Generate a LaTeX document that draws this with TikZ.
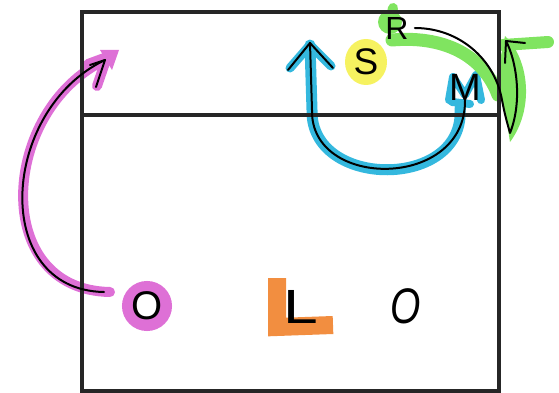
\documentclass[tikz,border=0pt]{standalone}
\usepackage{fontspec}
\setmainfont{Liberation Sans}
\definecolor{mkmagenta}{RGB}{222,112,214}
\definecolor{mkcyan}{RGB}{52,184,222}
\definecolor{mkgreen}{RGB}{128,228,96}
\definecolor{mkyellow}{RGB}{246,242,96}
\definecolor{mkorange}{RGB}{242,142,64}
\begin{document}
\begin{tikzpicture}[x=1pt,y=-1pt,
  frame/.style={line width=3.8pt, draw=black!85},
  ink/.style={line width=2pt, draw=black, line cap=round, line join=round},
  marker/.style={line cap=round, line join=round},
  letter/.style={inner sep=0pt, text=black}]
\useasboundingbox (0,0) rectangle (559,393);

% ---- marker highlights ----
% magenta arrow and ring
\draw[marker, mkmagenta, line width=10pt] (110,292) .. controls (-10,290) and (0,110) .. (105,60);
\draw[marker, mkmagenta, line width=10pt] (88,64) -- (107,57) -- (97,86);
\fill[mkmagenta] (100,50) -- (119,50) -- (112,70) -- cycle;
\draw[mkmagenta, line width=12pt] (147,306) circle[radius=19pt];
% cyan arrow and M
\draw[marker, mkcyan, line width=11pt] (460,108) .. controls (466,190) and (310,190) .. (312,110) -- (310,45);
\draw[marker, mkcyan, line width=9pt] (290,68) -- (310,45) -- (331,66);
\draw[marker, mkcyan, line width=8pt] (449,100) -- (453,77) -- (465,95) -- (476,75) -- (481,100);
\draw[marker, mkcyan, line width=8pt] (452,102) -- (470,104);
% green arrow and R
\fill[mkgreen] (390,22) circle[radius=12pt];
\draw[marker, mkgreen, line width=10pt] (393,8) -- (390,22);
\draw[marker, mkgreen, line width=13pt] (392,40) .. controls (450,35) and (485,60) .. (498,95);
\draw[marker, mkgreen, line width=12pt] (503,45) -- (548,42);
\fill[mkgreen] (496,80) .. controls (505,110) .. (510,142) .. controls (534,110) and (530,60) .. (505,36) -- cycle;
% yellow disc behind S
\fill[mkyellow] (366,62) ellipse[x radius=21pt, y radius=23pt];
% orange L
\draw[mkorange, line width=18pt] (277,278) -- (277,327) -- (333,325);

% ---- box ----
\draw[frame] (82,391) -- (82,12) -- (499,12) -- (499,391) -- cycle;
\draw[frame] (82,115) -- (499,115);

% ---- letters ----
\node[letter, font=\fontsize{40}{40}\selectfont] (O1) at (147,306) {O};
\node[letter, font=\fontsize{48}{48}\selectfont, xscale=1.3] (L) at (301,307) {L};
\node[letter, font=\fontsize{50}{50}\selectfont\itshape, xscale=0.78] (O2) at (406,306) {O};
\node[letter, font=\fontsize{37}{37}\selectfont] (S) at (366,62) {S};
\node[letter, font=\fontsize{32}{32}\selectfont] (R) at (397,28) {R};
\node[letter, font=\fontsize{38}{38}\selectfont] (M) at (465,87) {M};

% ---- arrows ----
\coordinate (magtip) at (105,60);
\coordinate (magtail) at (104,292);
\draw[ink] (magtail) .. controls (-10,290) and (0,110) .. (magtip);
\draw[ink] (90,65) -- (magtip) -- (96,87);

\coordinate (cyantip) at (310,43);
\draw[ink] (M.south) .. controls (466,190) and (310,190) .. (312,110) -- (cyantip);
\draw[ink] (288,70) -- (cyantip) -- (333,68);

\coordinate (greentip) at (506,41);
\draw[ink] ([xshift=6pt]R.east) .. controls (460,28) and (495,60) .. (502,100)
  .. controls (505,115) .. (510,133) .. controls (523,100) and (516,60) .. (greentip);
\draw[ink] (505,63) -- (greentip) -- (525,43);
\end{tikzpicture}
\end{document}
